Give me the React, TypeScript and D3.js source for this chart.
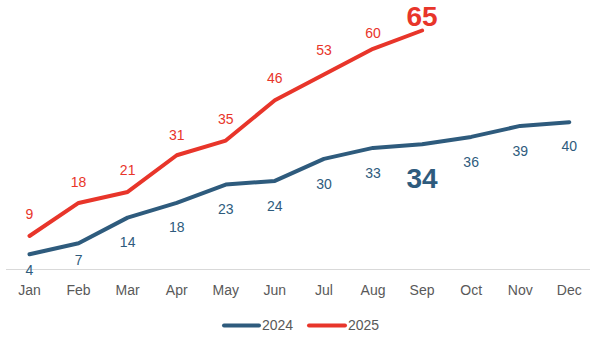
import React from "react";
import * as d3 from "d3";

const months = ["Jan", "Feb", "Mar", "Apr", "May", "Jun", "Jul", "Aug", "Sep", "Oct", "Nov", "Dec"];
const values2024 = [4, 7, 14, 18, 23, 24, 30, 33, 34, 36, 39, 40];
const values2025 = [9, 18, 21, 31, 35, 46, 53, 60, 65];
const seriesNames = ["2024", "2025"];

// label nudges (pixels), style only
const off2024 = [16, 17, 24, 24, 24, 25, 25, 25, 34, 25, 25, 24];
const off2025 = [-22, -21, -22, -20, -21, -22, -24, -16, -14];

const BLUE = "#2E5B7D";
const RED = "#E8352A";
const GRAY = "#595959";

export default function App() {
  const W = 592, H = 338;
  const x = d3.scalePoint<string>().domain(months).range([29.5, 569.3]);
  const y = d3.scaleLinear().domain([0, 65]).range([269, 30.5]);
  const line = d3.line<number>().x((_, i) => x(months[i])!).y((d) => y(d));

  return (
    <svg width={W} height={H} style={{ position: "absolute", left: 0, top: 0 }} fontFamily="Liberation Sans, Arial, sans-serif">
      <line x1={6} x2={590} y1={269.5} y2={269.5} stroke="#D9D9D9" strokeWidth={1} />
      {months.map((m) => (
        <text key={m} x={x(m)} y={295} textAnchor="middle" fontSize={14} fill={GRAY}>{m}</text>
      ))}
      <path d={line(values2024)!} fill="none" stroke={BLUE} strokeWidth={4} strokeLinejoin="round" strokeLinecap="round" />
      <path d={line(values2025)!} fill="none" stroke={RED} strokeWidth={4} strokeLinejoin="round" strokeLinecap="round" />
      {values2024.map((v, i) => {
        const big = i === 8;
        return (
          <text key={"b" + i} x={x(months[i])} y={y(v) + off2024[i]} dy="0.35em" textAnchor="middle"
            fontSize={big ? 28 : 14} fontWeight={big ? "bold" : "normal"} fill={BLUE}>{v}</text>
        );
      })}
      {values2025.map((v, i) => {
        const big = i === 8;
        return (
          <text key={"r" + i} x={x(months[i])} y={y(v) + off2025[i]} dy="0.35em" textAnchor="middle"
            fontSize={big ? 28 : 14} fontWeight={big ? "bold" : "normal"} fill={RED}>{v}</text>
        );
      })}
      <g>
        <line x1={224} x2={259} y1={325.5} y2={325.5} stroke={BLUE} strokeWidth={4} strokeLinecap="round" />
        <text x={262} y={325.5} dy="0.35em" fontSize={14} fill={GRAY}>{seriesNames[0]}</text>
        <line x1={309} x2={345} y1={325.5} y2={325.5} stroke={RED} strokeWidth={4} strokeLinecap="round" />
        <text x={348} y={325.5} dy="0.35em" fontSize={14} fill={GRAY}>{seriesNames[1]}</text>
      </g>
    </svg>
  );
}
